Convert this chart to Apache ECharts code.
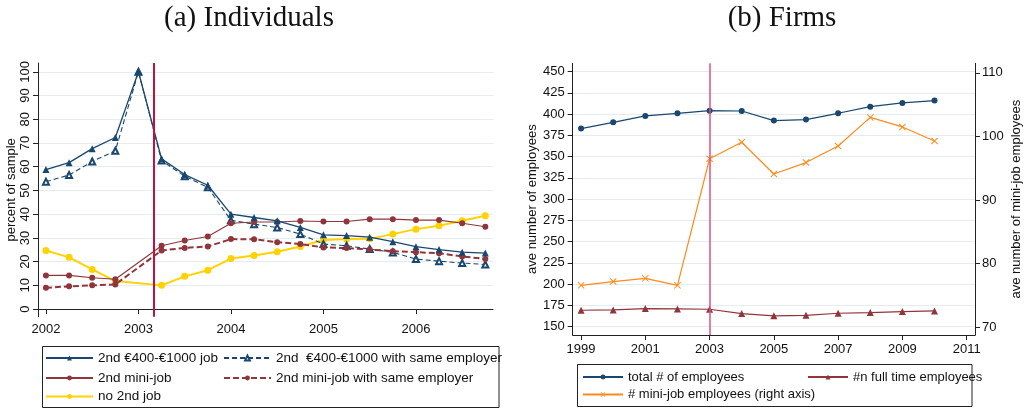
<!DOCTYPE html>
<html>
<head>
<meta charset="utf-8">
<script src="https://cdn.jsdelivr.net/npm/echarts@6/dist/echarts.min.js"></script>
<style>
  html, body { margin: 0; padding: 0; background: #fff; }
  #chart { width: 1024px; height: 409px; }
</style>
</head>
<body>
<div id="chart"></div>
<script>
// panel (a): quarterly shares, percent of sample
const quarters = [2002, 2002.25, 2002.5, 2002.75, 2003, 2003.25, 2003.5, 2003.75, 2004, 2004.25,
  2004.5, 2004.75, 2005, 2005.25, 2005.5, 2005.75, 2006, 2006.25, 2006.5, 2006.75];
const job400 = [58.8, 61.7, 67.6, 72.3, 100, 63.3, 56.7, 52.2, 40.0, 38.6, 37.2, 34.4, 31.3, 31.0, 30.3, 28.4, 26.3, 25.1, 24.0, 23.6];
const job400Same = [53.7, 56.5, 62.2, 66.7, 100, 62.6, 56.0, 51.3, 37.4, 35.8, 34.4, 31.6, 27.4, 26.7, 25.3, 23.9, 21.1, 20.2, 19.4, 18.8];
const miniJob = [14.2, 14.2, 13.2, 12.6, null, 26.7, 28.9, 30.6, 36.2, 36.7, 36.7, 37.1, 36.9, 36.9, 37.9, 37.9, 37.5, 37.5, 36.2, 34.7];
const miniJobSame = [9.0, 9.6, 10.0, 10.4, null, 24.7, 25.8, 26.4, 29.5, 29.4, 28.2, 27.4, 26.0, 25.7, 25.1, 24.4, 24.0, 23.5, 22.2, 21.1];
const no2ndJob = [24.7, 21.8, 16.7, 11.8, null, 10.0, 13.8, 16.4, 21.3, 22.6, 24.2, 26.4, 29.1, 29.5, 29.6, 31.6, 33.7, 35.1, 37.2, 39.3];
const yearTicksA = [2002, 2003, 2004, 2005, 2006];
const pctTicks = [0, 10, 20, 30, 40, 50, 60, 70, 80, 90, 100];
const reformA = 2003.17;

// panel (b): yearly firm averages
const years = [1999, 2000, 2001, 2002, 2003, 2004, 2005, 2006, 2007, 2008, 2009, 2010];
const totalEmp = [383.0, 390.4, 397.9, 401.0, 404.1, 403.7, 392.4, 393.6, 401.0, 408.8, 413.2, 415.9];
const fullTimeEmp = [169.3, 169.7, 171.3, 170.9, 170.5, 165.4, 162.7, 163.4, 165.8, 166.6, 167.8, 168.5];
const miniEmp = [76.6, 77.2, 77.7, 76.6, 96.5, 99.1, 94.1, 95.9, 98.5, 103.0, 101.5, 99.3];
const yearTicksB = [1999, 2001, 2003, 2005, 2007, 2009, 2011];
const empTicks = [150, 175, 200, 225, 250, 275, 300, 325, 350, 375, 400, 425, 450];
const miniTicks = [70, 80, 90, 100, 110];
const reformB = 2003;

const NAVY = '#1a476f', MAROON = '#90353b', GOLD = '#ffd200', ORANGE = '#ff8a1c';
const FONT = 'Liberation Sans';
const GRIDC = '#e4ecef';
const AXC = '#222';
const xMark = 'path://M0,1 L1,0 L5,4 L9,0 L10,1 L6,5 L10,9 L9,10 L5,6 L1,10 L0,9 L4,5 Z';

const pairs = (xs, ys) => xs.map((x, i) => [x, ys[i]]);
const plain = v => String(v);

const axisBase = {
  axisLine: { show: true, lineStyle: { color: AXC, width: 1 } },
  axisTick: { show: true, inside: false, length: 5, lineStyle: { color: AXC } },
  axisLabel: { color: '#111', fontFamily: FONT, fontSize: 13, formatter: plain },
  nameTextStyle: { color: '#111', fontFamily: FONT, fontSize: 13 },
  splitLine: { show: false }
};

function lineSeries(name, xi, yi, xs, ys, o) {
  return Object.assign({
    name, type: 'line', xAxisIndex: xi, yAxisIndex: yi,
    data: pairs(xs, ys), connectNulls: true, showSymbol: true
  }, o);
}

const chart = echarts.init(document.getElementById('chart'), null, { renderer: 'canvas' });
chart.setOption({
  animation: false,
  textStyle: { fontFamily: FONT },
  grid: [
    { left: 38, top: 63, width: 455, height: 253.7 },
    { left: 572.7, top: 63.3, width: 403.3, height: 271.7 }
  ],
  xAxis: [
    Object.assign({}, axisBase, {
      type: 'value', gridIndex: 0, min: 2001.914, max: 2006.833,
      axisTick: Object.assign({}, axisBase.axisTick, { customValues: yearTicksA }),
      axisLabel: Object.assign({}, axisBase.axisLabel, { customValues: yearTicksA, margin: 6 })
    }),
    Object.assign({}, axisBase, {
      type: 'value', gridIndex: 1, min: 1998.74, max: 2011.26,
      axisTick: Object.assign({}, axisBase.axisTick, { customValues: yearTicksB }),
      axisLabel: Object.assign({}, axisBase.axisLabel, { customValues: yearTicksB, margin: 8 })
    })
  ],
  yAxis: [
    Object.assign({}, axisBase, {
      type: 'value', gridIndex: 0, min: -3.2, max: 103.7,
      name: 'percent of sample', nameLocation: 'middle', nameGap: 17,
      axisTick: Object.assign({}, axisBase.axisTick, { customValues: pctTicks }),
      axisLabel: Object.assign({}, axisBase.axisLabel, { customValues: pctTicks, rotate: 90, margin: 6 }),
      splitLine: { show: true, lineStyle: { color: GRIDC, width: 1 } }
    }),
    Object.assign({}, axisBase, {
      type: 'value', gridIndex: 1, min: 140.2, max: 459.8, position: 'left',
      name: 'ave number of employees', nameLocation: 'middle', nameGap: 28,
      axisTick: Object.assign({}, axisBase.axisTick, { customValues: empTicks }),
      axisLabel: Object.assign({}, axisBase.axisLabel, { customValues: empTicks, margin: 8 }),
      splitLine: { show: true, lineStyle: { color: GRIDC, width: 1 } }
    }),
    Object.assign({}, axisBase, {
      type: 'value', gridIndex: 1, min: 68.8, max: 111.5, position: 'right',
      name: 'ave number of mini-job employees', nameLocation: 'middle', nameGap: 35,
      axisTick: Object.assign({}, axisBase.axisTick, { customValues: miniTicks }),
      axisLabel: Object.assign({}, axisBase.axisLabel, { customValues: miniTicks, margin: 7 })
    })
  ],
  legend: [
    { data: ['2nd €400-€1000 job'], left: 45, top: 351 },
    { data: ['2nd mini-job'], left: 45, top: 371 },
    { data: ['no 2nd job'], left: 45, top: 389.5 },
    { data: ['2nd  €400-€1000 with same employer'], left: 223, top: 351 },
    { data: ['2nd mini-job with same employer'], left: 223, top: 371 },
    { data: ['total # of employees'], left: 582, top: 370.5, itemWidth: 40, textStyle: { fontFamily: FONT, fontSize: 13, color: '#111' } },
    { data: ['#n full time employees'], left: 807, top: 370.5, itemWidth: 40, textStyle: { fontFamily: FONT, fontSize: 13, color: '#111' } },
    { data: ['# mini-job employees (right axis)'], left: 582, top: 388, itemWidth: 40, textStyle: { fontFamily: FONT, fontSize: 13, color: '#111' } }
  ].map(l => Object.assign({
    orient: 'horizontal', padding: 0, itemWidth: 47, itemHeight: 6, itemGap: 0,
    selectedMode: false, textStyle: { fontFamily: FONT, fontSize: 13.5, color: '#111' }
  }, l)),
  graphic: [
    { type: 'rect', shape: { x: 42.5, y: 346.5, width: 456.5, height: 61 }, style: { fill: 'none', stroke: '#222', lineWidth: 1 } },
    { type: 'rect', shape: { x: 577.5, y: 364.5, width: 394.5, height: 42 }, style: { fill: 'none', stroke: '#222', lineWidth: 1 } },
    { type: 'text', x: 249, y: 18, style: { text: '(a) Individuals', font: '29px "Liberation Serif"', fill: '#111', textAlign: 'center', textVerticalAlign: 'middle' } },
    { type: 'text', x: 782, y: 18, style: { text: '(b) Firms', font: '29px "Liberation Serif"', fill: '#111', textAlign: 'center', textVerticalAlign: 'middle' } }
  ],
  series: [
    lineSeries('2nd €400-€1000 job', 0, 0, quarters, job400, {
      symbol: 'triangle', symbolSize: 7, itemStyle: { color: NAVY },
      lineStyle: { color: NAVY, width: 1.3 }, z: 4,
      markLine: {
        silent: true, symbol: 'none', label: { show: false },
        lineStyle: { color: '#c50f3c', width: 2, type: 'solid' },
        data: [{ xAxis: reformA }]
      }
    }),
    lineSeries('2nd  €400-€1000 with same employer', 0, 0, quarters, job400Same, {
      symbol: 'emptyTriangle', symbolSize: 6, itemStyle: { color: NAVY, borderWidth: 1 },
      lineStyle: { color: NAVY, width: 1.1, type: [5, 3] }, z: 3
    }),
    lineSeries('2nd mini-job', 0, 0, quarters, miniJob, {
      symbol: 'circle', symbolSize: 6, itemStyle: { color: MAROON },
      lineStyle: { color: MAROON, width: 1.1 }, z: 3
    }),
    lineSeries('2nd mini-job with same employer', 0, 0, quarters, miniJobSame, {
      symbol: 'circle', symbolSize: 6, itemStyle: { color: MAROON },
      lineStyle: { color: MAROON, width: 2, type: [6, 3] }, z: 3
    }),
    lineSeries('no 2nd job', 0, 0, quarters, no2ndJob, {
      symbol: 'circle', symbolSize: 7, itemStyle: { color: GOLD },
      lineStyle: { color: GOLD, width: 2 }, z: 2
    }),
    lineSeries('total # of employees', 1, 1, years, totalEmp, {
      symbol: 'circle', symbolSize: 6, itemStyle: { color: NAVY },
      lineStyle: { color: NAVY, width: 1.2 },
      markLine: {
        silent: true, symbol: 'none', label: { show: false },
        lineStyle: { color: '#e0507d', width: 1.5, type: 'solid' },
        data: [{ xAxis: reformB }]
      }
    }),
    lineSeries('#n full time employees', 1, 1, years, fullTimeEmp, {
      symbol: 'triangle', symbolSize: 7, itemStyle: { color: MAROON },
      lineStyle: { color: MAROON, width: 1.2 }
    }),
    lineSeries('# mini-job employees (right axis)', 1, 2, years, miniEmp, {
      symbol: xMark, symbolSize: 7, itemStyle: { color: ORANGE },
      lineStyle: { color: ORANGE, width: 1.2 }
    })
  ]
});
</script>
</body>
</html>
